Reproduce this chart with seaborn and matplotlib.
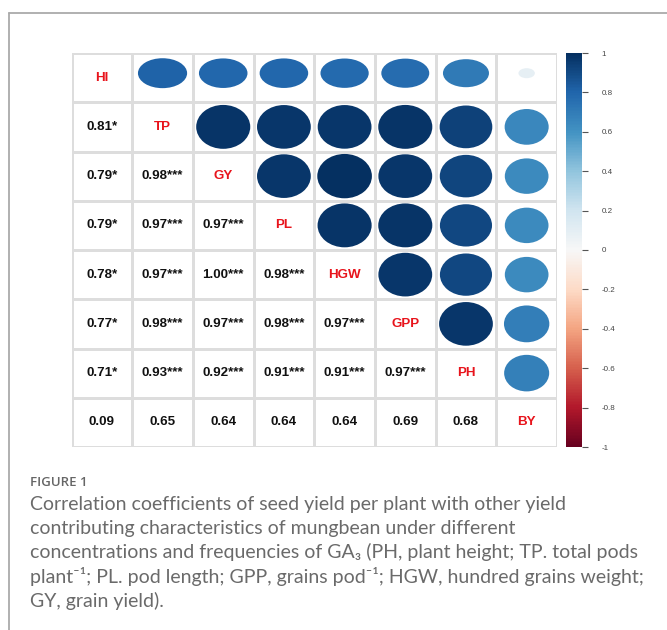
import numpy as np
import matplotlib
matplotlib.use("Agg")
import matplotlib.pyplot as plt
import seaborn as sns
from matplotlib.patches import Ellipse
from matplotlib.lines import Line2D
from matplotlib.colors import Normalize, ListedColormap
from matplotlib.cm import ScalarMappable

# trait order (diagonal)
traits = ["HI", "TP", "GY", "PL", "HGW", "GPP", "PH", "BY"]

# lower triangle correlation coefficients, row by row
lower_r = [
    [],
    [0.81],
    [0.79, 0.98],
    [0.79, 0.97, 0.97],
    [0.78, 0.97, 1.00, 0.98],
    [0.77, 0.98, 0.97, 0.98, 0.97],
    [0.71, 0.93, 0.92, 0.91, 0.91, 0.97],
    [0.09, 0.65, 0.64, 0.64, 0.64, 0.69, 0.68],
]
# significance stars for the same cells
lower_sig = [
    [],
    ["*"],
    ["*", "***"],
    ["*", "***", "***"],
    ["*", "***", "***", "***"],
    ["*", "***", "***", "***", "***"],
    ["*", "***", "***", "***", "***", "***"],
    ["", "", "", "", "", "", ""],
]

cbar_ticks = [-1, -0.8, -0.6, -0.4, -0.2, 0, 0.2, 0.4, 0.6, 0.8, 1]
cbar_ticklabels = ["-1", "-0.8", "-0.6", "-0.4", "-0.2", "0", "0.2", "0.4", "0.6", "0.8", "1"]

caption_title = "FIGURE 1"
caption_lines = [
    "Correlation coefficients of seed yield per plant with other yield",
    "contributing characteristics of mungbean under different",
    "concentrations and frequencies of GA\u2083 (PH, plant height; TP. total pods",
    "plant\u207b\u00b9; PL. pod length; GPP, grains pod\u207b\u00b9; HGW, hundred grains weight;",
    "GY, grain yield).",
]

n = len(traits)
corr = np.eye(n)
annot = np.empty((n, n), dtype=object)
annot[:] = ""
for i, row in enumerate(lower_r):
    for j, r in enumerate(row):
        corr[i, j] = r
        corr[j, i] = r
        annot[i, j] = f"{r:.2f}{lower_sig[i][j]}"
for k, t in enumerate(traits):
    annot[k, k] = t

sns.set_style("white")
plt.rcParams["font.family"] = ["Liberation Sans", "DejaVu Sans"]

W, H = 667, 630
fig = plt.figure(figsize=(W / 100, H / 100), dpi=100)
ax = fig.add_axes([71.5 / W, 1 - 447 / H, (557 - 71.5) / W, (447 - 53) / H])
cax = fig.add_axes([565.7 / W, 1 - 447 / H, 16.6 / W, (447 - 53) / H])

# white grid with text in lower triangle + diagonal
sns.heatmap(np.zeros((n, n)), ax=ax, cmap=ListedColormap(["white"]), cbar=False,
            linewidths=0.8, linecolor="#dddddd", annot=annot, fmt="",
            annot_kws={"fontsize": 9.6, "fontweight": "bold", "color": "#111111"},
            xticklabels=False, yticklabels=False)
for txt in ax.texts:
    if txt.get_text() in traits:
        txt.set_color("#e8141c")

cmap = plt.get_cmap("RdBu")
norm = Normalize(-1, 1)
for i in range(n):
    for j in range(i + 1, n):
        r = corr[i, j]
        d = 0.9 * np.sqrt(abs(r))
        hf, dy = (0.75, -0.09) if i == 0 else (1.0, 0.0)
        ax.add_patch(Ellipse((j + 0.5, i + 0.5 + dy), d, d * hf,
                             facecolor=cmap(norm(r)), edgecolor="none"))

# colour legend
cb = fig.colorbar(ScalarMappable(norm=norm, cmap=cmap), cax=cax, ticks=cbar_ticks)
cb.ax.set_yticklabels(cbar_ticklabels)
cb.outline.set_visible(False)
cax.tick_params(axis="y", length=4, width=0.8, color="#555555", labelsize=5.8,
                labelcolor="#444444", pad=10, right=True)

# page frame
fig.add_artist(Line2D([9 / W, 1], [1 - 13 / H, 1 - 13 / H], color="#aaaaaa", lw=1.3))
fig.add_artist(Line2D([9 / W, 9 / W], [0, 1 - 13 / H], color="#aaaaaa", lw=1.3))

# caption
fig.text(30 / W, 1 - 486 / H, caption_title, family=["Open Sans", "DejaVu Sans"],
         fontsize=9.5, fontweight="semibold", color="#666666", va="baseline")
for k, line in enumerate(caption_lines):
    fig.text(30 / W, 1 - (510 + 24.2 * k) / H, line, family=["Lato", "DejaVu Sans"],
             fontsize=14, color="#6a6a6a", va="baseline")

fig.savefig("out.png", dpi=100)
